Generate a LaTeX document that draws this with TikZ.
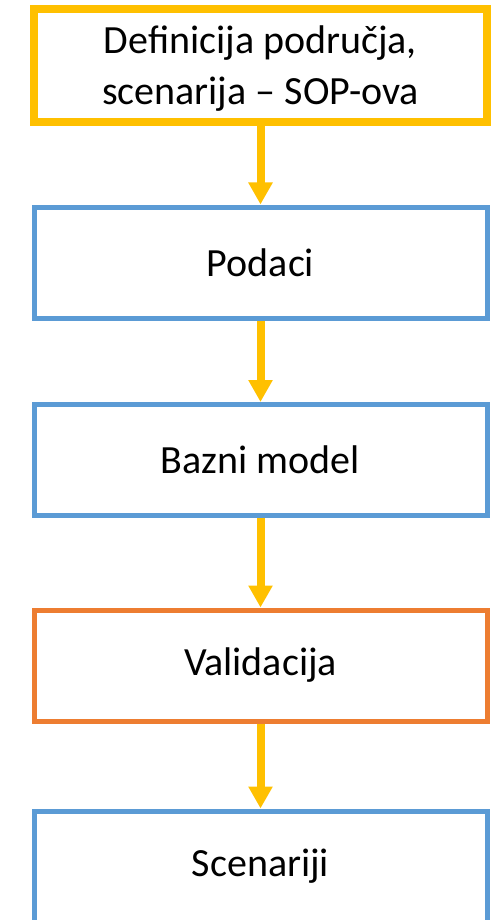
\documentclass[tikz,border=0pt]{standalone}
\usepackage{fontspec}
\setmainfont{Carlito}
\usetikzlibrary{arrows.meta}

\definecolor{boxyellow}{HTML}{FFC000}
\definecolor{boxblue}{HTML}{5B9BD5}
\definecolor{boxorange}{HTML}{ED7D31}

\tikzset{
  stage/.style={draw=boxblue, line width=5pt, rectangle, minimum width=453pt, minimum height=111pt,
    align=center, font=\fontsize{40}{51}\selectfont},
  flow/.style={-{Triangle[width=23pt,length=22pt]}, line width=8pt, color=boxyellow}
}

\begin{document}
\begin{tikzpicture}[x=1pt,y=1pt]

\useasboundingbox (0,0) rectangle (493,-920);

% Boxes
  \node[stage, draw=boxyellow, line width=8pt, minimum height=113pt, text depth=0pt] (def) at (260.5,-65.5) {Definicija područja,\\scenarija -- SOP-ova};
  \node[stage] (pod) at (260.5,-262.5) {Podaci};
  \node[stage] (baz) at (260.5,-460) {Bazni model};
  \node[stage, draw=boxorange] (val) at (260.5,-665.5) {Validacija};
  \node[stage] (sce) at (260.5,-866.5) {Scenariji};

% Arrows
  \draw[flow] (def) -- (pod);
  \draw[flow] (pod) -- (baz);
  \draw[flow] (baz) -- (val);
  \draw[flow] (val) -- (sce);

\end{tikzpicture}
\end{document}
